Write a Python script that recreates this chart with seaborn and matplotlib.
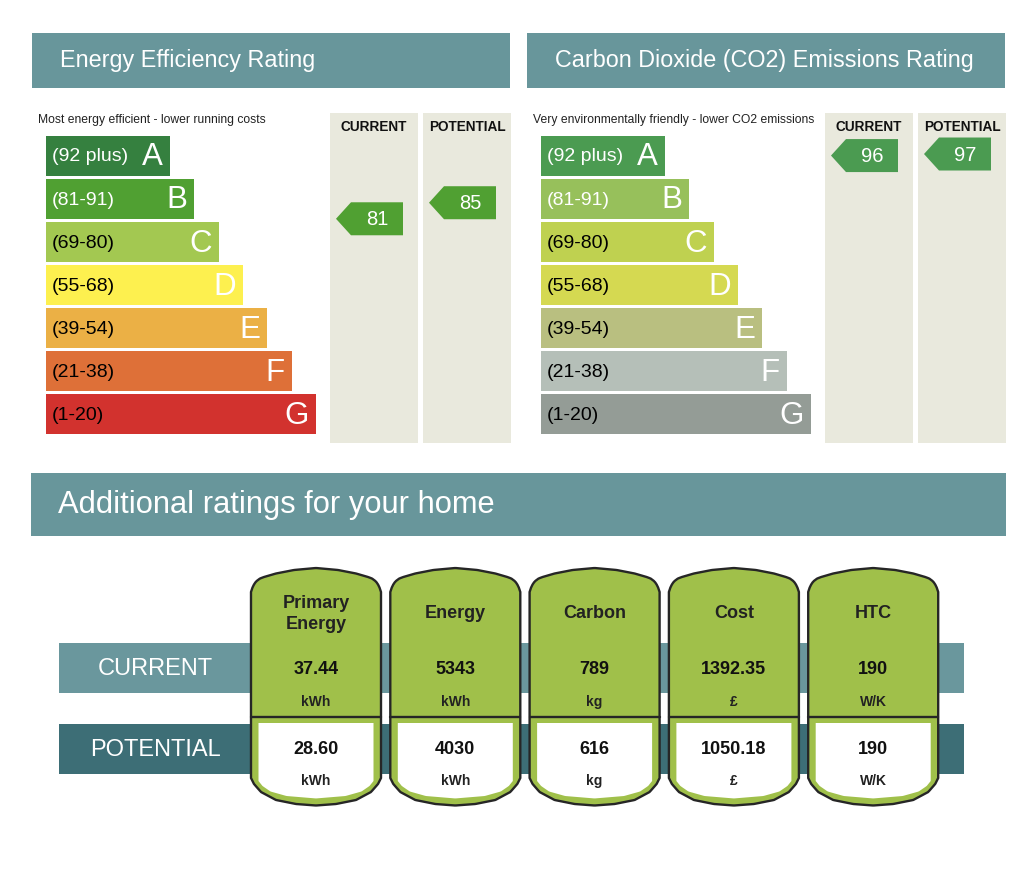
import numpy as np
import matplotlib
matplotlib.use("Agg")
import matplotlib.pyplot as plt
from matplotlib.patches import Polygon, Rectangle
import seaborn as sns

sns.set_theme(style="white")
plt.rcParams['font.family'] = ['Liberation Sans', 'DejaVu Sans']

# ---------------- data ----------------
bands = ['A', 'B', 'C', 'D', 'E', 'F', 'G']
band_ranges = ['(92 plus)', '(81-91)', '(69-80)', '(55-68)', '(39-54)', '(21-38)', '(1-20)']
band_low = [92, 81, 69, 55, 39, 21, 1]
band_high = [100, 91, 80, 68, 54, 38, 20]
ee_colors = ['#35803f', '#50a032', '#a3c851', '#fdf04f', '#ebb045', '#de7038', '#d2322e']
co2_colors = ['#4b9b51', '#97c05b', '#bfd150', '#d5d951', '#b9bf80', '#b5bfb8', '#949c96']
ee_label_colors = ['white', 'white', 'black', 'black', 'black', 'black', 'black']
co2_label_colors = ['white', 'white', 'black', 'black', 'black', 'black', 'black']
ee_current, ee_potential = 81, 85
co2_current, co2_potential = 96, 97

metrics = ['Primary\nEnergy', 'Energy', 'Carbon', 'Cost', 'HTC']
current_values = ['37.44', '5343', '789', '1392.35', '190']
potential_values = ['28.60', '4030', '616', '1050.18', '190']
units = ['kWh', 'kWh', 'kg', '£', 'W/K']

# ---------------- styling ----------------
W, H = 1024, 876
BANNER = '#68969b'
COLBG = '#e9e9dd'
CUR_BAR = '#6a979d'
POT_BAR = '#3d6e76'
CARD_GREEN = '#a0c04a'
OUTLINE = '#262626'

fig = plt.figure(figsize=(W / 100, H / 100), dpi=100)
fig.patch.set_facecolor('white')
ax = fig.add_axes([0, 0, 1, 1])
ax.set_xlim(0, W)
ax.set_ylim(H, 0)
ax.axis('off')


def px_axes(x0, y0, x1, y1):
    a = fig.add_axes([x0 / W, 1 - y1 / H, (x1 - x0) / W, (y1 - y0) / H])
    a.patch.set_alpha(0)
    return a


def arrow(xl, xr, yc, color, text):
    hh = 16.5
    tip = 15
    pts = [(xl, yc), (xl + tip, yc - hh), (xr, yc - hh), (xr, yc + hh), (xl + tip, yc + hh)]
    ax.add_patch(Polygon(pts, closed=True, facecolor=color, edgecolor='none', zorder=5))
    ax.text((xl + tip + xr) / 2, yc + 1, text, color='white', fontsize=14.5,
            ha='center', va='center', zorder=6)


def rating_panel(x0, title, subtitle, colors, label_colors, cur, pot):
    # banner
    ax.add_patch(Rectangle((x0, 33), 478, 55, facecolor=BANNER, edgecolor='none'))
    ax.text(x0 + 28, 61, title, color='white', fontsize=16.8, ha='left', va='center')
    ax.text(x0 + 6, 120, subtitle, color='#222222', fontsize=8.7, ha='left', va='center')
    # columns
    cols = [(x0 + 298, 'CURRENT', cur), (x0 + 391, 'POTENTIAL', pot)]
    for cx, name, _ in cols:
        ax.add_patch(Rectangle((cx, 113), 88, 330, facecolor=COLBG, edgecolor='none'))
        ax.text(cx + 44, 127, name, fontsize=9.8, fontweight='bold', color='#111111',
                ha='center', va='center')
    # bands via seaborn
    top, bot = 134, 436
    bax = px_axes(x0 + 14, top, x0 + 294, bot)
    scale = 24.33
    lens = [5.1 + i for i in range(len(bands))]
    sns.barplot(x=lens, y=bands, hue=bands, palette=colors, orient='h', width=0.93,
                legend=False, saturation=1, linewidth=0, ax=bax)
    bax.set_xlim(0, 280 / scale)
    bax.set_ylim(len(bands) - 0.5, -0.5)
    bax.axis('off')
    for i, (rng, letter) in enumerate(zip(band_ranges, bands)):
        bax.text(0.25, i + 0.03, rng, color=label_colors[i], fontsize=14, ha='left', va='center')
        bax.text(lens[i] - 0.3, i + 0.04, letter, color='white', fontsize=22.5, ha='right', va='center')
    # arrows
    row_h = (bot - top) / len(bands)
    bar_h = 0.93 * row_h
    for cx, name, score in cols:
        idx = next(i for i in range(len(bands)) if band_low[i] <= score <= band_high[i])
        btop = top + idx * row_h + (row_h - bar_h) / 2
        yc = btop + (band_high[idx] - score) / (band_high[idx] - band_low[idx]) * bar_h
        ymin = top + (row_h - bar_h) / 2 + 18.5
        ymax = bot - (row_h - bar_h) / 2 - 18.5
        yc = min(max(yc, ymin), ymax)
        arrow(cx + 6, cx + 73, yc, colors[idx], str(score))


rating_panel(32, 'Energy Efficiency Rating', 'Most energy efficient - lower running costs',
             ee_colors, ee_label_colors, ee_current, ee_potential)
rating_panel(527, 'Carbon Dioxide (CO2) Emissions Rating',
             'Very environmentally friendly - lower CO2 emissions',
             co2_colors, co2_label_colors, co2_current, co2_potential)

# ---------------- additional ratings ----------------
ax.add_patch(Rectangle((31, 473), 975, 63, facecolor=BANNER, edgecolor='none'))
ax.text(58, 505, 'Additional ratings for your home', color='white', fontsize=22.2,
        ha='left', va='center')

ax.add_patch(Rectangle((59, 643), 905, 50, facecolor=CUR_BAR, edgecolor='none', zorder=1))
ax.add_patch(Rectangle((59, 724), 905, 50, facecolor=POT_BAR, edgecolor='none', zorder=1))
ax.text(155, 669, 'CURRENT', color='white', fontsize=17, ha='center', va='center', zorder=2)
ax.text(155, 750, 'POTENTIAL', color='white', fontsize=17, ha='center', va='center', zorder=2)

# card edge profiles: distance from side -> y
top_d = [0, 2, 5, 9, 13, 25, 43, 65]
top_y = [592, 586, 581.5, 578.5, 577, 573.5, 570, 568]
bot_d = [0, 3, 10, 25, 45, 65]
bot_y = [778, 784, 792, 800, 804, 805.5]
ibot_d = [0, 4, 12, 28, 58]
ibot_y = [781, 786, 791.5, 796, 798.5]


def profile(xc, half, d_pts, y_pts, n=90):
    xs = np.linspace(xc - half, xc + half, n)
    d = half - np.abs(xs - xc)
    return xs, np.interp(d, d_pts, y_pts)


card_w = 130
first_c, step = 316, 139.3
for i, (m, cv, pv, u) in enumerate(zip(metrics, current_values, potential_values, units)):
    xc = first_c + i * step
    x0, x1 = xc - card_w / 2, xc + card_w / 2
    tx, ty = profile(xc, card_w / 2, top_d, top_y)
    bx, by = profile(xc, card_w / 2, bot_d, bot_y)
    outer = np.vstack([np.column_stack([tx, ty]), np.column_stack([bx[::-1], by[::-1]])])
    ax.add_patch(Polygon(outer, closed=True, facecolor=CARD_GREEN, edgecolor=OUTLINE,
                         linewidth=1.7, zorder=3))
    ix0, ix1 = x0 + 7.5, x1 - 7.5
    ibx, iby = profile(xc, (ix1 - ix0) / 2, ibot_d, ibot_y)
    inner = np.vstack([[[ix0, 723], [ix1, 723]], np.column_stack([ibx[::-1], iby[::-1]])])
    ax.add_patch(Polygon(inner, closed=True, facecolor='white', edgecolor='none', zorder=4))
    ax.plot([x0, x1], [717, 717], color=OUTLINE, linewidth=1.7, zorder=5)
    ax.text(xc, 614, m, fontsize=13, fontweight='bold', color='#222222', ha='center',
            va='center', linespacing=1.35, zorder=6)
    ax.text(xc, 669, cv, fontsize=13, fontweight='bold', color='#111111', ha='center',
            va='center', zorder=6)
    ax.text(xc, 702, u, fontsize=10, fontweight='bold', color='#222222', ha='center',
            va='center', zorder=6)
    ax.text(xc, 749, pv, fontsize=13, fontweight='bold', color='#111111', ha='center',
            va='center', zorder=6)
    ax.text(xc, 781, u, fontsize=10, fontweight='bold', color='#222222', ha='center',
            va='center', zorder=6)

fig.savefig('out.png', dpi=100, facecolor='white')
